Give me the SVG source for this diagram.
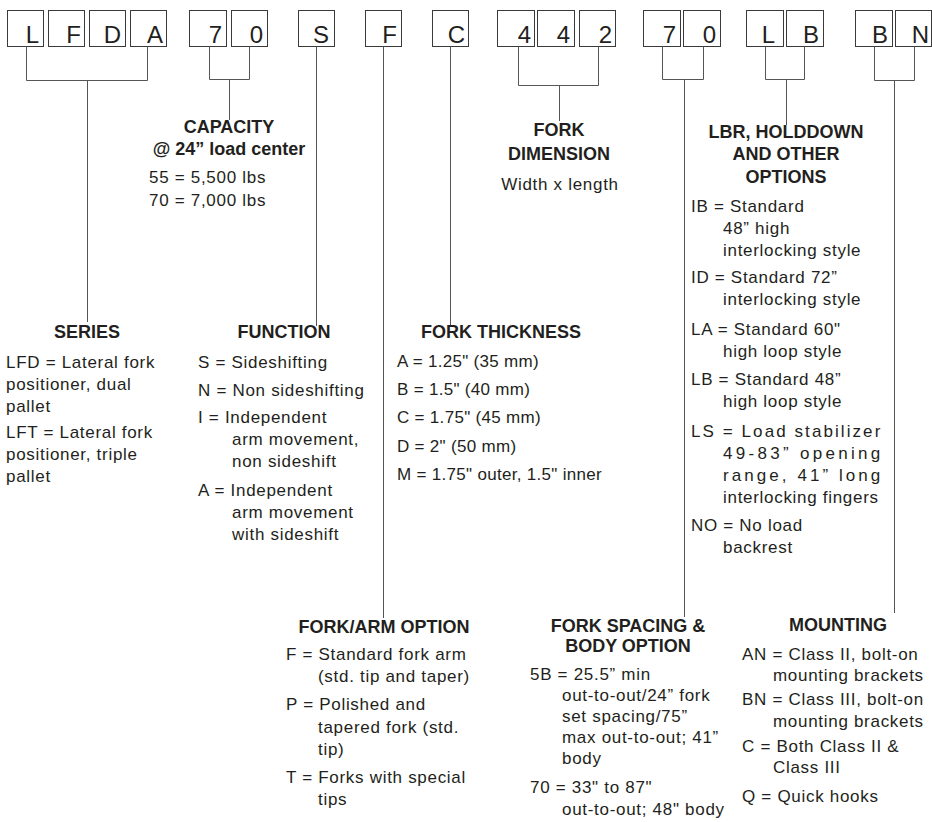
<svg xmlns="http://www.w3.org/2000/svg" width="932" height="822" viewBox="0 0 932 822">
  <style>
    .box { fill: #ffffff; stroke: #3a3a3a; stroke-width: 1; }
    .code { font-family: "Liberation Sans", Arial, sans-serif; font-size: 24px; fill: #231f20; text-anchor: end; }
    .wire { fill: none; stroke: #555555; stroke-width: 1; }
    .head { font-family: "Liberation Sans", Arial, sans-serif; font-size: 18px; font-weight: bold; fill: #231f20; text-anchor: middle; }
    .body { font-family: "Liberation Sans", Arial, sans-serif; font-size: 17px; fill: #231f20; letter-spacing: 0.7px; }
    .tight { letter-spacing: 0.3px; }
    .mid { text-anchor: middle; }
  </style>
  <rect width="932" height="822" fill="#ffffff"/>

  <!-- code character boxes -->
  <g id="code-boxes">
    <g id="box-L1"><rect class="box" x="7.5" y="10.5" width="36" height="36"/><text class="code" x="39" y="43">L</text></g>
    <g id="box-F1"><rect class="box" x="48.5" y="10.5" width="36" height="36"/><text class="code" x="81" y="43">F</text></g>
    <g id="box-D"><rect class="box" x="89.5" y="10.5" width="36" height="36"/><text class="code" x="121" y="43">D</text></g>
    <g id="box-A"><rect class="box" x="130.5" y="10.5" width="36" height="36"/><text class="code" x="163" y="43">A</text></g>
    <g id="box-7a"><rect class="box" x="189.5" y="10.5" width="37" height="36"/><text class="code" x="222" y="43">7</text></g>
    <g id="box-0a"><rect class="box" x="231.5" y="10.5" width="36" height="36"/><text class="code" x="263" y="43">0</text></g>
    <g id="box-S"><rect class="box" x="298.5" y="10.5" width="36" height="36"/><text class="code" x="329" y="43">S</text></g>
    <g id="box-F2"><rect class="box" x="365.5" y="10.5" width="36" height="36"/><text class="code" x="397" y="43">F</text></g>
    <g id="box-C"><rect class="box" x="432.5" y="10.5" width="36" height="36"/><text class="code" x="465" y="43">C</text></g>
    <g id="box-4a"><rect class="box" x="497.5" y="10.5" width="37" height="36"/><text class="code" x="531" y="43">4</text></g>
    <g id="box-4b"><rect class="box" x="537.5" y="10.5" width="37" height="36"/><text class="code" x="570" y="43">4</text></g>
    <g id="box-2"><rect class="box" x="579.5" y="10.5" width="36" height="36"/><text class="code" x="612" y="43">2</text></g>
    <g id="box-7b"><rect class="box" x="643.5" y="10.5" width="37" height="36"/><text class="code" x="676" y="43">7</text></g>
    <g id="box-0b"><rect class="box" x="683.5" y="10.5" width="37" height="36"/><text class="code" x="716" y="43">0</text></g>
    <g id="box-L2"><rect class="box" x="746.5" y="10.5" width="37" height="36"/><text class="code" x="775" y="43">L</text></g>
    <g id="box-B1"><rect class="box" x="786.5" y="10.5" width="37" height="36"/><text class="code" x="819" y="43">B</text></g>
    <g id="box-B2"><rect class="box" x="855.5" y="10.5" width="37" height="36"/><text class="code" x="888" y="43">B</text></g>
    <g id="box-N"><rect class="box" x="895.5" y="10.5" width="36" height="36"/><text class="code" x="929" y="43">N</text></g>
  </g>

  <!-- bracket and leader lines -->
  <g id="connectors">
    <path class="wire" d="M26.5 46.5 V80.5 H147.5 V46.5 M87.5 80.5 V322"/>
    <path class="wire" d="M209.5 46.5 V79.5 H249.5 V46.5 M229.5 79.5 V120"/>
    <path class="wire" d="M316.5 46.5 V326"/>
    <path class="wire" d="M383.5 46.5 V618"/>
    <path class="wire" d="M450.5 46.5 V327"/>
    <path class="wire" d="M518.5 46.5 V85.5 H598.5 V46.5 M559.5 85.5 V121"/>
    <path class="wire" d="M662.5 46.5 V79.5 H703.5 V46.5 M684.5 79.5 V617"/>
    <path class="wire" d="M765.5 46.5 V79.5 H804.5 V46.5 M786.5 79.5 V125"/>
    <path class="wire" d="M874.5 46.5 V80.5 H914.5 V46.5 M894.5 80.5 V613"/>
  </g>

  <g id="capacity">
    <text class="head" x="229" y="133">CAPACITY</text>
    <text class="head" x="229" y="155">@ 24” load center</text>
    <text class="body" x="149" y="183">55 = 5,500 lbs</text>
    <text class="body" x="149" y="206">70 = 7,000 lbs</text>
  </g>

  <g id="fork-dimension">
    <text class="head" x="559" y="136">FORK</text>
    <text class="head" x="559" y="160">DIMENSION</text>
    <text class="body mid" x="560" y="190">Width x length</text>
  </g>

  <g id="lbr-options">
    <text class="head" x="786" y="138">LBR, HOLDDOWN</text>
    <text class="head" x="786" y="160">AND OTHER</text>
    <text class="head" x="786" y="183">OPTIONS</text>
    <text class="body" x="691" y="212">IB = Standard</text>
    <text class="body" x="723" y="234">48” high</text>
    <text class="body" x="723" y="256">interlocking style</text>
    <text class="body" x="691" y="283">ID = Standard 72”</text>
    <text class="body" x="723" y="305">interlocking style</text>
    <text class="body" x="691" y="335">LA = Standard 60"</text>
    <text class="body" x="723" y="357">high loop style</text>
    <text class="body" x="691" y="385">LB = Standard 48”</text>
    <text class="body" x="723" y="407">high loop style</text>
    <text class="body" x="691" y="437" textLength="190" lengthAdjust="spacing">LS = Load stabilizer</text>
    <text class="body" x="723" y="459" textLength="158" lengthAdjust="spacing">49-83” opening</text>
    <text class="body" x="723" y="481" textLength="158" lengthAdjust="spacing">range, 41” long</text>
    <text class="body" x="723" y="503">interlocking fingers</text>
    <text class="body" x="691" y="531">NO = No load</text>
    <text class="body" x="723" y="553">backrest</text>
  </g>

  <g id="series">
    <text class="head" x="87" y="338">SERIES</text>
    <text class="body" x="6" y="368">LFD = Lateral fork</text>
    <text class="body" x="6" y="390">positioner, dual</text>
    <text class="body" x="6" y="412">pallet</text>
    <text class="body" x="6" y="438">LFT = Lateral fork</text>
    <text class="body" x="6" y="460">positioner, triple</text>
    <text class="body" x="6" y="482">pallet</text>
  </g>

  <g id="function">
    <text class="head" x="284" y="338">FUNCTION</text>
    <text class="body" x="198" y="368">S = Sideshifting</text>
    <text class="body" x="198" y="396">N = Non sideshifting</text>
    <text class="body" x="198" y="423">I = Independent</text>
    <text class="body" x="232" y="445">arm movement,</text>
    <text class="body" x="232" y="467">non sideshift</text>
    <text class="body" x="198" y="496">A = Independent</text>
    <text class="body" x="232" y="518">arm movement</text>
    <text class="body" x="232" y="540">with sideshift</text>
  </g>

  <g id="fork-thickness">
    <text class="head" x="501" y="338">FORK THICKNESS</text>
    <text class="body tight" x="397" y="367">A = 1.25" (35 mm)</text>
    <text class="body tight" x="397" y="395">B = 1.5" (40 mm)</text>
    <text class="body tight" x="397" y="423">C = 1.75" (45 mm)</text>
    <text class="body tight" x="397" y="452">D = 2" (50 mm)</text>
    <text class="body tight" x="397" y="480">M = 1.75" outer, 1.5" inner</text>
  </g>

  <g id="fork-arm-option">
    <text class="head" x="384" y="633">FORK/ARM OPTION</text>
    <text class="body" x="286" y="660">F = Standard fork arm</text>
    <text class="body" x="318" y="682">(std. tip and taper)</text>
    <text class="body" x="286" y="710">P = Polished and</text>
    <text class="body" x="318" y="733">tapered fork (std.</text>
    <text class="body" x="318" y="755">tip)</text>
    <text class="body" x="286" y="783">T = Forks with special</text>
    <text class="body" x="318" y="805">tips</text>
  </g>

  <g id="fork-spacing">
    <text class="head" x="628" y="632">FORK SPACING &amp;</text>
    <text class="head" x="628" y="652">BODY OPTION</text>
    <text class="body" x="530" y="680">5B = 25.5” min</text>
    <text class="body" x="562" y="701">out-to-out/24” fork</text>
    <text class="body" x="562" y="722">set spacing/75”</text>
    <text class="body" x="562" y="743">max out-to-out; 41”</text>
    <text class="body" x="562" y="764">body</text>
    <text class="body" x="530" y="793">70 = 33" to 87"</text>
    <text class="body" x="562" y="815">out-to-out; 48" body</text>
  </g>

  <g id="mounting">
    <text class="head" x="838" y="631">MOUNTING</text>
    <text class="body" x="742" y="660">AN = Class II, bolt-on</text>
    <text class="body" x="773" y="681">mounting brackets</text>
    <text class="body" x="742" y="705">BN = Class III, bolt-on</text>
    <text class="body" x="773" y="727">mounting brackets</text>
    <text class="body" x="742" y="752">C = Both Class II &amp;</text>
    <text class="body" x="773" y="773">Class III</text>
    <text class="body" x="742" y="802">Q = Quick hooks</text>
  </g>
</svg>
